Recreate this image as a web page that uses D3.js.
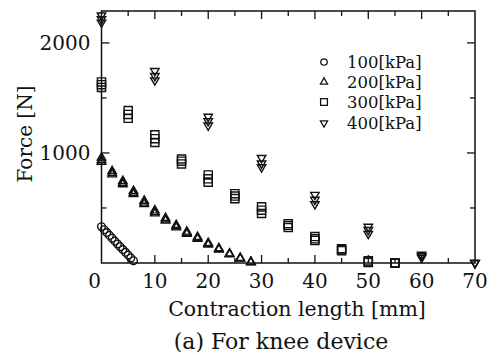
<!DOCTYPE html>
<html>
<head>
<meta charset="utf-8">
<script src="https://cdn.jsdelivr.net/npm/d3@7"></script>
<style>
  body { margin: 0; background: #fff; }
  svg text { font-family: "DejaVu Serif", serif; fill: #111; }
</style>
</head>
<body>
<div id="chart"></div>
<script>
// contraction length [mm] per pressure, force [N] per trial
const x100 = [0, 0.5, 1, 1.5, 2, 2.5, 3, 3.5, 4, 4.5, 5, 5.5, 6];
const f100 = [[330, 303, 277, 251, 225, 199, 173, 148, 122, 97, 72, 46, 21]];

const x200 = [0, 2, 4, 6, 8, 10, 12, 14, 16, 18, 20, 22, 24, 26, 28];
const f200 = [
  [957, 835, 745, 655, 565, 478, 408, 345, 285, 236, 182, 134, 86, 46, 10],
  [935, 818, 728, 638, 548, 462, 395, 333, 273, 227, 173, 127, 82, 43, 8],
  [920, 805, 715, 625, 535, 450, 385, 323, 265, 220, 167, 122, 79, 41, 6]
];

const x300 = [0, 5, 10, 15, 20, 25, 30, 35, 40, 45, 50, 55];
const f300 = [
  [1645, 1385, 1165, 945, 800, 630, 510, 357, 240, 130, 20, 0],
  [1620, 1350, 1130, 925, 765, 608, 480, 340, 220, 120, 10, 0],
  [1595, 1315, 1095, 900, 735, 585, 450, 322, 205, 112, 5, 0]
];

const x400 = [0, 10, 20, 30, 40, 50, 60, 70];
const f400 = [
  [2250, 1745, 1330, 955, 620, 330, 75, 0],
  [2215, 1700, 1290, 905, 575, 300, 62, 0],
  [2185, 1660, 1250, 870, 535, 265, 48, 0]
];

const seriesNames = ['100[kPa]', '200[kPa]', '300[kPa]', '400[kPa]'];
const xMajor = [0, 10, 20, 30, 40, 50, 60, 70];
const xMinor = [5, 15, 25, 35, 45, 55, 65];
const yMajor = [1000, 2000];
const yMinor = [500, 1500];

const W = 488, H = 358;
const svg = d3.select('#chart').append('svg')
  .attr('width', W).attr('height', H);

const x = d3.scaleLinear().domain([0, 70]).range([101.5, 475]);
const y = d3.scaleLinear().domain([0, 2290]).range([263, 11]);

const axisColor = '#111';

// frame
svg.append('rect')
  .attr('x', x(0)).attr('y', y(2290))
  .attr('width', x(70) - x(0)).attr('height', y(0) - y(2290))
  .attr('fill', 'none').attr('stroke', axisColor).attr('stroke-width', 1.5);

// inward ticks on all four sides
function ticks(vals, len) {
  vals.forEach(v => {
    svg.append('line').attr('x1', x(v)).attr('x2', x(v))
      .attr('y1', y(0)).attr('y2', y(0) - len)
      .attr('stroke', axisColor).attr('stroke-width', 1.3);
    svg.append('line').attr('x1', x(v)).attr('x2', x(v))
      .attr('y1', y(2290)).attr('y2', y(2290) + len)
      .attr('stroke', axisColor).attr('stroke-width', 1.3);
  });
}
function yticks(vals, len) {
  vals.forEach(v => {
    svg.append('line').attr('x1', x(0)).attr('x2', x(0) + len)
      .attr('y1', y(v)).attr('y2', y(v))
      .attr('stroke', axisColor).attr('stroke-width', 1.3);
    svg.append('line').attr('x1', x(70)).attr('x2', x(70) - len)
      .attr('y1', y(v)).attr('y2', y(v))
      .attr('stroke', axisColor).attr('stroke-width', 1.3);
  });
}
ticks(xMajor.slice(1, -1), 8);
ticks(xMinor, 5);
yticks(yMajor, 8);
yticks(yMinor, 5);

// tick labels
svg.selectAll('.xl').data(xMajor).enter().append('text')
  .attr('x', d => x(d) + (d === 0 ? -7 : 0))
  .attr('y', 288)
  .attr('text-anchor', 'middle')
  .style('font-size', '20px')
  .text(d => d);

svg.selectAll('.yl').data(yMajor).enter().append('text')
  .attr('x', x(0) - 11)
  .attr('y', d => y(d) + 7)
  .attr('text-anchor', 'end')
  .style('font-size', '20px')
  .text(d => d);

// axis titles
svg.append('text')
  .attr('x', 297).attr('y', 316)
  .attr('text-anchor', 'middle')
  .style('font-size', '20.5px')
  .text('Contraction length [mm]');

svg.append('text')
  .attr('transform', 'translate(32,134) rotate(-90)')
  .attr('text-anchor', 'middle')
  .style('font-size', '20px')
  .text('Force [N]');

svg.append('text')
  .attr('x', 281).attr('y', 349)
  .attr('text-anchor', 'middle')
  .style('font-size', '22px')
  .text('(a) For knee device');

// markers
const shapes = [
  { type: d3.symbolCircle, size: 46, rot: 0 },
  { type: d3.symbolTriangle, size: 31, rot: 0 },
  { type: d3.symbolSquare, size: 66, rot: 0 },
  { type: d3.symbolTriangle, size: 31, rot: 180 }
];
const groups = [[x100, f100], [x200, f200], [x300, f300], [x400, f400]];

groups.forEach(([xs, trials], i) => {
  const s = shapes[i];
  const path = d3.symbol().type(s.type).size(s.size)();
  trials.forEach(vals => {
    svg.append('g').selectAll('path').data(vals).enter().append('path')
      .attr('d', path)
      .attr('transform', (d, j) => `translate(${x(xs[j])},${y(d)}) rotate(${s.rot})`)
      .attr('fill', 'none')
      .attr('stroke', '#111')
      .attr('stroke-width', 1.4);
  });
});

// legend
const legY = [62, 82, 102, 123];
seriesNames.forEach((name, i) => {
  const s = shapes[i];
  svg.append('path')
    .attr('d', d3.symbol().type(s.type).size(s.size * 0.7)())
    .attr('transform', `translate(324,${legY[i]}) rotate(${s.rot})`)
    .attr('fill', 'none').attr('stroke', '#111').attr('stroke-width', 1.3);
  svg.append('text')
    .attr('x', 347).attr('y', legY[i] + 6)
    .style('font-size', '16.5px')
    .text(name);
});
</script>
</body>
</html>
